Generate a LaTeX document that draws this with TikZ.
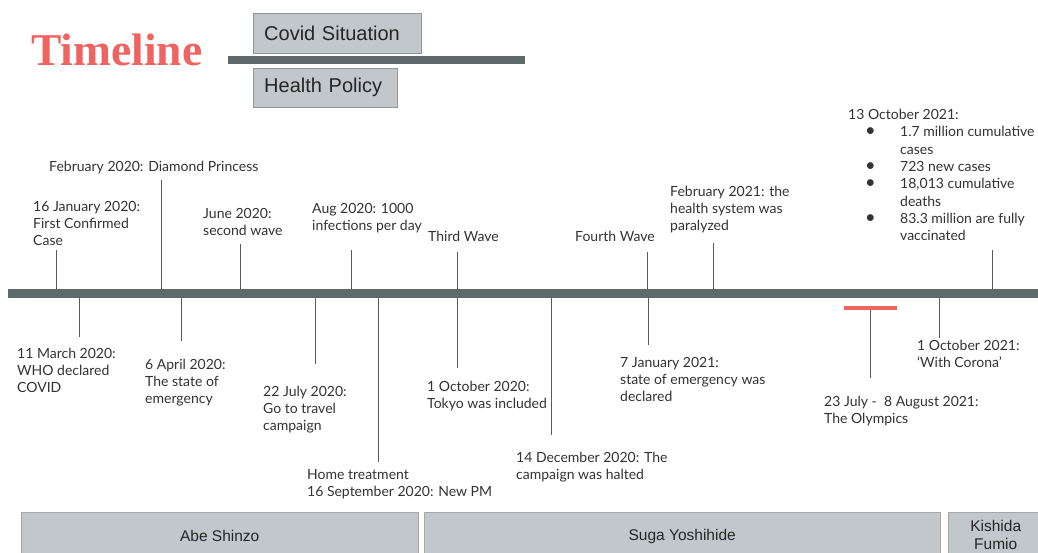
\documentclass[tikz,border=0pt]{standalone}
\usepackage{fontspec}
\setmainfont{Lato}
\newfontfamily\titlefont{Liberation Serif}
\newfontfamily\boxfont{Liberation Sans}
\definecolor{coral}{HTML}{EF6461}
\definecolor{axisgray}{HTML}{5E696B}
\definecolor{boxfill}{HTML}{C1C7CB}
\definecolor{boxline}{HTML}{8E9497}
\definecolor{txtgray}{HTML}{333333}
\definecolor{tickgray}{HTML}{5A5A5A}
\newcommand{\bulitem}{\makebox[52pt][l]{\hspace{17pt}\scalebox{1.3}{\textbullet}}}

\begin{document}
\begin{tikzpicture}[x=1pt, y=-1pt,
	lab/.style = {anchor=north west, inner sep=0pt, align=left, text=txtgray, font=\fontsize{14}{17}\selectfont},
	tick/.style = {draw=tickgray, line width=.9pt},
	bar/.style = {fill=axisgray, inner sep=0pt},
	legbox/.style = {draw=boxline, fill=boxfill, anchor=north west, inner xsep=11pt, align=left, text=black!85, font=\boxfont\fontsize{20}{24}\selectfont},
	pmbox/.style = {draw=boxline!80, fill=boxfill, anchor=north west, align=center, text=black!85, font=\boxfont\fontsize{15.5}{18.5}\selectfont}]
	\fill [white] (0,0) rectangle (1038,552);
	\useasboundingbox (0,0) rectangle (1038,552);

	% title and legend
	\node (title) at (31,65) [anchor=base west, inner sep=0pt, text=coral, font=\titlefont\bfseries\fontsize{45.5}{46}\selectfont] {Timeline};
	\node (covid) at (253,13) [legbox, minimum width=168, minimum height=40, text width=146] {Covid Situation};
	\node (legbar) at (376.5,60) [bar, minimum width=297, minimum height=8] {};
	\node (policy) at (253,68) [legbox, minimum width=144, minimum height=39, text width=122] {Health Policy};

	% the time axis
	\node (axis) at (526.5,293.5) [bar, minimum width=1037, minimum height=9] {};
	\node (games) at (870.5,307.5) [fill=coral, inner sep=0pt, minimum width=53, minimum height=4] {};

	% covid situation (above)
	\node (jan16) at (33,201) [lab] {16 January 2020:\\First Confirmed\\Case};
	\node (feb20) at (49,161) [lab] {February 2020: Diamond Princess};
	\node (jun20) at (203,208) [lab] {June 2020:\\second wave};
	\node (aug20) at (312,203) [lab] {Aug 2020: 1000\\infections per day};
	\node (wave3) at (428,231) [lab] {Third Wave};
	\node (wave4) at (575,231) [lab] {Fourth Wave};
	\node (feb21) at (670,186) [lab] {February 2021: the\\health system was\\paralyzed};
	\node (oct13) at (848,109) [lab, font=\fontsize{14}{17.3}\selectfont] {13 October 2021:\\
		\bulitem 1.7 million cumulative\\\hspace*{52pt}cases\\
		\bulitem 723 new cases\\
		\bulitem 18,013 cumulative\\\hspace*{52pt}deaths\\
		\bulitem 83.3 million are fully\\\hspace*{52pt}vaccinated};

	\coordinate (jan16e) at (56,250);
	\coordinate (feb20e) at (161,180);
	\coordinate (jun20e) at (240,244);
	\coordinate (aug20e) at (351,250);
	\coordinate (wave3e) at (457,252);
	\coordinate (wave4e) at (647,252);
	\coordinate (feb21e) at (713,243);
	\coordinate (oct13e) at (992,250);
	\foreach \t in {jan16,feb20,jun20,aug20,wave3,wave4,feb21,oct13}
		\draw [tick] (axis.north -| \t e) -- (\t e);

	% health policy (below)
	\node (mar11) at (17,348) [lab] {11 March 2020:\\WHO declared\\COVID};
	\node (apr6) at (145,359) [lab] {6 April 2020:\\The state of\\emergency};
	\node (jul22) at (263,386) [lab] {22 July 2020:\\Go to travel\\campaign};
	\node (sep16) at (307,469) [lab] {Home treatment\\16 September 2020: New PM};
	\node (oct20) at (427,381) [lab] {1 October 2020:\\Tokyo was included};
	\node (dec14) at (516,452) [lab] {14 December 2020: The\\campaign was halted};
	\node (jan21) at (620,357) [lab] {7 January 2021:\\state of emergency was\\declared};
	\node (olym) at (824,396) [lab] {23 July -\ \ 8 August 2021:\\The Olympics};
	\node (oct21) at (917,340) [lab] {1 October 2021:\\`With Corona'};

	\coordinate (mar11e) at (79,337);
	\coordinate (apr6e) at (181,341);
	\coordinate (jul22e) at (315,364);
	\coordinate (sep16e) at (378,462);
	\coordinate (oct20e) at (457,368);
	\coordinate (dec14e) at (551,435);
	\coordinate (jan21e) at (648,345);
	\coordinate (oct21e) at (939,338);
	\foreach \t in {mar11,apr6,jul22,sep16,oct20,dec14,jan21,oct21}
		\draw [tick] (axis.south -| \t e) -- (\t e);
	\coordinate (olyme) at (870,378);
	\draw [tick] (games.south -| olyme) -- (olyme);

	% prime ministers
	\node (abe) at (21,512) [pmbox, minimum width=397, minimum height=48] {Abe Shinzo};
	\node (suga) at (424,512) [pmbox, minimum width=516, minimum height=48] {Suga Yoshihide};
	\node (kishida) at (948,512) [pmbox, minimum width=95, minimum height=46, inner sep=1pt] {Kishida\\Fumio};
\end{tikzpicture}
\end{document}
